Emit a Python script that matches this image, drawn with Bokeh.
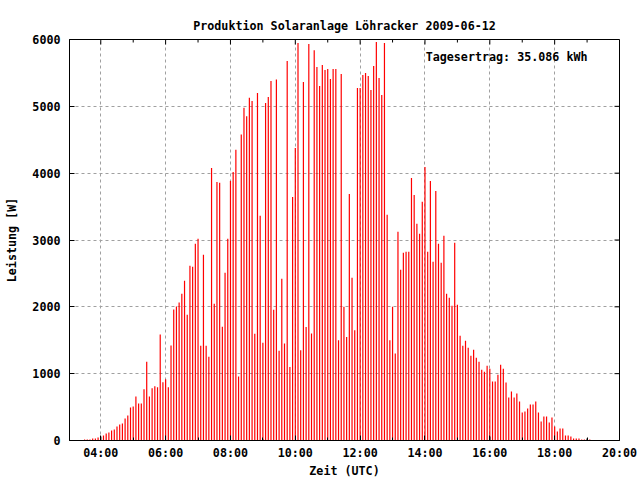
from bokeh.plotting import figure
from bokeh.models import LinearAxis, FixedTicker, Label, ColumnDataSource, Range1d
from bokeh.embed import file_html
from bokeh.resources import INLINE

FONT = "DejaVu Sans Mono"
FS = "11.7px"

# ---------------- data ----------------
title_text = "Produktion Solaranlage Löhracker 2009-06-12"
total_text = "Tagesertrag: 35.086 kWh"
x_label = "Zeit (UTC)"
y_label = "Leistung [W]"

start_time = "03:30"      # first 5-minute sample
step_minutes = 5
# power per 5-minute sample (W), 0 = no sample
power = [
    15, 15, 15, 30, 30, 45, 0, 75, 105, 120,
    150, 165, 210, 240, 255, 330, 375, 495, 510, 660,
    555, 555, 765, 1180, 660, 780, 810, 795, 1585, 870,
    915, 795, 1420, 1960, 2005, 2065, 2196, 2390, 1880, 2614,
    2600, 2943, 3018, 1418, 2779, 1418, 1254, 4079, 2045, 3869,
    3855, 1703, 2510, 3018, 3884, 4019, 4350, 956, 4580, 4980,
    4850, 5130, 5080, 1598, 5200, 3361, 1464, 5050, 5140, 5380,
    1957, 5400, 1344, 2420, 1450, 5680, 1100, 3645, 4377, 5946,
    1350, 5363, 1700, 5931, 1600, 5841, 5587, 5304, 5617, 5543,
    5558, 5408, 5558, 5558, 1500, 5483, 2000, 1550, 3690, 2435,
    1650, 5274, 5274, 5468, 5498, 5453, 5244, 5603, 5961, 5423,
    5169, 5946, 3376, 1500, 2000, 1300, 3122, 2555, 2809, 2824,
    2824, 3929, 3675, 3242, 3093, 3571, 4094, 2824, 3884, 2674,
    3735, 2943, 2659, 3063, 2196, 2136, 2016, 2958, 2030, 1568,
    1418, 1493, 1389, 1269, 1359, 1239, 1180, 1060, 1030, 1120,
    1075, 881, 881, 985, 1135, 1075, 866, 642, 732, 642,
    702, 582, 418, 433, 478, 537, 537, 582, 418, 284,
    358, 358, 269, 343, 209, 134, 179, 179, 75, 75,
    60, 30, 30, 30, 15, 15, 0, 15,
]
# second (black) series
black_times = ["04:00", "09:00", "16:00", "19:00"]
black_power = [60, 15, 60, 30]

y_ticks = [0, 1000, 2000, 3000, 4000, 5000, 6000]
x_ticks = [4, 6, 8, 10, 12, 14, 16, 18, 20]
x_tick_labels = ["04:00", "06:00", "08:00", "10:00", "12:00", "14:00", "16:00", "18:00", "20:00"]
x_minor = [5, 7, 9, 11, 13, 15, 17, 19]

X0, X1 = 3.035, 20.0
Y0, Y1 = 0, 6000


def hours(s):
    h, m = s.split(":")
    return int(h) + int(m) / 60.0


t0 = hours(start_time)
times = [t0 + i * step_minutes / 60.0 for i in range(len(power))]
pts = [(t, v) for t, v in zip(times, power) if v > 0]
red_src = ColumnDataSource(dict(t=[a for a, _ in pts], v=[b for _, b in pts]))
blk_src = ColumnDataSource(dict(t=[hours(s) for s in black_times], v=black_power))

# ---------------- figure ----------------
W, H = 640, 480
BL, BR, BT, BB = 69, 21, 39, 40
p = figure(width=W, height=H, output_backend="svg", toolbar_location=None,
           x_range=Range1d(X0, X1), y_range=Range1d(Y0, Y1),
           min_border_left=BL, min_border_right=BR, min_border_top=BT,
           min_border_bottom=BB, x_axis_location=None, y_axis_location=None)
p.background_fill_color = "white"
p.border_fill_color = "white"
p.outline_line_color = "black"
p.outline_line_width = 1

# pixel -> data conversions for decorations
px_x = (X1 - X0) / (W - BL - BR)
px_y = (Y1 - Y0) / (H - BT - BB)

BAR_W = 1.2 * px_x
p.vbar(x="t", top="v", bottom=0, width=BAR_W, source=red_src,
       fill_color="#ff0000", line_color=None)
p.vbar(x="t", top="v", bottom=0, width=BAR_W, source=blk_src,
       fill_color="black", line_color=None)

xt = FixedTicker(ticks=x_ticks, minor_ticks=x_minor)
yt = FixedTicker(ticks=y_ticks, minor_ticks=[])

xb = LinearAxis(ticker=xt, major_label_overrides={t: l for t, l in zip(x_ticks, x_tick_labels)},
                axis_label=x_label)
yl = LinearAxis(ticker=yt, axis_label=y_label)
for ax in (xb, yl):
    ax.axis_line_color = "black"
    ax.major_tick_line_color = "black"
    ax.minor_tick_line_color = "black"
    ax.major_tick_in = 5
    ax.major_tick_out = 0
    ax.minor_tick_in = 3
    ax.minor_tick_out = 0
    ax.major_label_text_font = FONT
    ax.major_label_text_font_style = "bold"
    ax.major_label_text_font_size = FS
    ax.major_label_text_color = "black"
    ax.axis_label_text_font = FONT
    ax.axis_label_text_font_style = "bold"
    ax.axis_label_text_font_size = FS
    ax.axis_label_text_color = "black"
xb.major_label_standoff = 5
xb.axis_label_standoff = 1
yl.major_label_standoff = 9
yl.axis_label_standoff = 10
p.add_layout(xb, "below")
p.add_layout(yl, "left")

# mirrored tick marks on top and right border
tx = x_ticks + x_minor
tl = [5] * len(x_ticks) + [3] * len(x_minor)
p.segment(x0=tx, x1=tx, y0=[Y1] * len(tx), y1=[Y1 - l * px_y for l in tl],
          line_color="black", line_width=1)
p.segment(x0=[X1] * len(y_ticks), x1=[X1 - 5 * px_x] * len(y_ticks),
          y0=y_ticks, y1=y_ticks, line_color="black", line_width=1)

for g, tk in ((p.xgrid, xt), (p.ygrid, yt)):
    g.ticker = FixedTicker(ticks=tk.ticks)
    g.grid_line_color = "#a0a0a0"
    g.grid_line_dash = "3 3"
    g.grid_line_width = 1

p.title.text = title_text
p.title.align = "center"
p.title.text_font = FONT
p.title.text_font_style = "bold"
p.title.text_font_size = FS
p.title.text_color = "black"
p.title.standoff = 13


def sx(px):
    return X0 + (px - BL) * px_x


def sy(py):
    return Y0 + (H - BB - py) * px_y


p.add_layout(Label(x=sx(587), y=sy(56), text=total_text, text_align="right",
                   text_baseline="middle", text_font=FONT, text_font_style="bold",
                   text_font_size=FS, text_color="black"))

open("out.html", "w").write(file_html(p, INLINE))
